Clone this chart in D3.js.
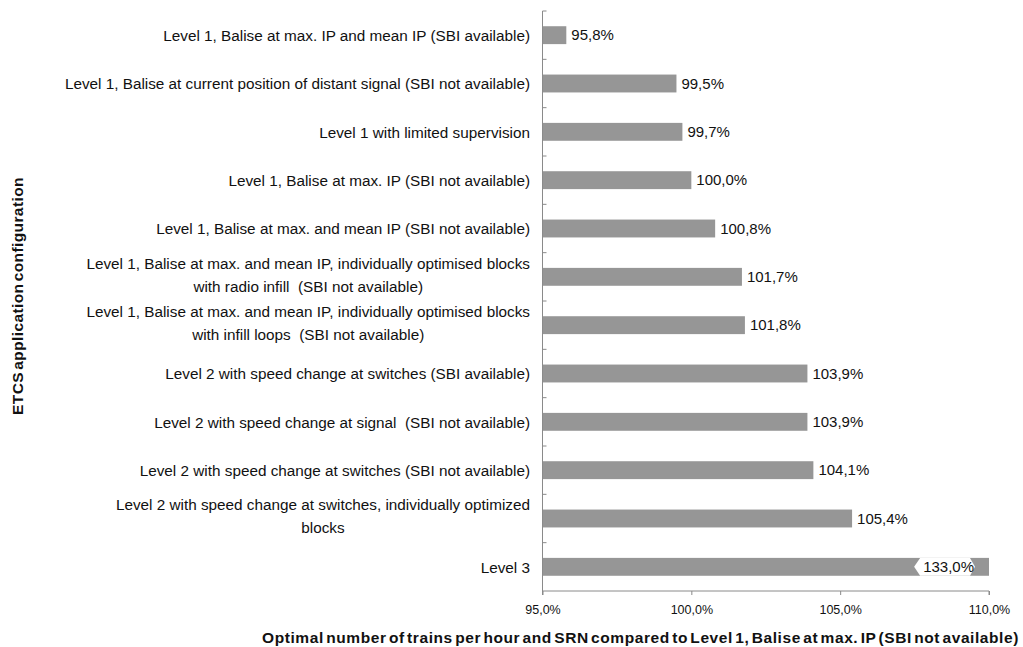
<!DOCTYPE html>
<html>
<head>
<meta charset="utf-8">
<script src="https://cdn.jsdelivr.net/npm/d3@7"></script>
<style>
  html, body { margin: 0; padding: 0; background: #fff; }
  svg { display: block; font-family: "Liberation Sans", Arial, sans-serif; }
  .cat { font-size: 15.3px; fill: #111; white-space: pre; }
  .val { font-size: 15px; fill: #111; }
  .tick-lbl { font-size: 12.5px; fill: #111; }
  .title { font-size: 15.5px; font-weight: bold; fill: #111; letter-spacing: 0.4px; word-spacing: -2.5px; }
  .title.x-title { letter-spacing: 0.58px; }
</style>
</head>
<body>
<svg id="chart" width="1023" height="647"></svg>
<script>
// ETCS configurations (top to bottom); "\n" marks a line break in the label
const categories = [
  "Level 1, Balise at max. IP and mean IP (SBI available)",
  "Level 1, Balise at current position of distant signal (SBI not available)",
  "Level 1 with limited supervision",
  "Level 1, Balise at max. IP (SBI not available)",
  "Level 1, Balise at max. and mean IP (SBI not available)",
  "Level 1, Balise at max. and mean IP, individually optimised blocks\nwith radio infill  (SBI not available)",
  "Level 1, Balise at max. and mean IP, individually optimised blocks\nwith infill loops  (SBI not available)",
  "Level 2 with speed change at switches (SBI available)",
  "Level 2 with speed change at signal  (SBI not available)",
  "Level 2 with speed change at switches (SBI not available)",
  "Level 2 with speed change at switches, individually optimized\nblocks",
  "Level 3"
];

// Optimal trains per hour relative to the reference configuration, in %
const values = [95.8, 99.5, 99.7, 100.0, 100.8, 101.7, 101.8, 103.9, 103.9, 104.1, 105.4, 133.0];

// Axis ticks, in %
const xTicks = [95, 100, 105, 110];

const yTitle = "ETCS application configuration";
const xTitle = "Optimal number of trains per hour and SRN compared to Level 1, Balise at max. IP (SBI not available)";

const svg = d3.select("#chart");
const axisColor = "#8a8a8a";
const barColor = "#969696";

const plot = { left: 542.5, right: 989, top: 11, bottom: 591 };

const locale = d3.formatLocale({ decimal: ",", thousands: ".", grouping: [3], currency: ["", "€"] });
const pct = v => locale.format(".1f")(v) + "%";

const x = d3.scaleLinear().domain([95, 110]).range([plot.left, plot.right]).clamp(true);
const y = d3.scaleBand().domain(d3.range(categories.length))
  .range([plot.top, plot.bottom]).paddingInner(0.63).paddingOuter(0.315);

// Bars
svg.append("g").selectAll("rect").data(values).join("rect")
  .attr("x", x(95))
  .attr("y", (d, i) => y(i))
  .attr("width", d => x(d) - x(95))
  .attr("height", y.bandwidth())
  .attr("fill", barColor);

// Horizontal axis
const xAxis = d3.axisBottom(x).tickValues(xTicks).tickSize(4).tickPadding(10.5).tickFormat(pct);
const gx = svg.append("g").attr("transform", `translate(0,${plot.bottom})`).call(xAxis);
gx.attr("font-family", null).attr("font-size", null);
gx.select(".domain").attr("stroke", axisColor).attr("d", `M${plot.left},4V0H${plot.right}V4`);
gx.selectAll(".tick line").attr("stroke", axisColor);
gx.selectAll(".tick text").attr("class", "tick-lbl").attr("fill", "#111");

// Vertical axis with inward ticks on category boundaries
const step = y.step();
const boundaries = d3.range(categories.length).map(i => plot.top + i * step);
svg.append("line").attr("x1", plot.left).attr("x2", plot.left)
  .attr("y1", plot.top).attr("y2", plot.bottom).attr("stroke", axisColor);
svg.append("g").selectAll("line").data(boundaries).join("line")
  .attr("x1", plot.left).attr("x2", plot.left + 4)
  .attr("y1", d => d).attr("y2", d => d).attr("stroke", axisColor);

// Category labels: right-aligned block, lines of a wrapped label centred within the block
const labelRight = 530;
const lineH = 23;
const cg = svg.append("g");
categories.forEach((c, i) => {
  const lines = c.split("\n");
  const cy = y(i) + y.bandwidth() / 2 + (lines.length > 1 ? -2 : 0.5);
  const t = cg.append("text").attr("class", "cat");
  const spans = lines.map((ln, k) => t.append("tspan")
    .attr("y", cy + (k - (lines.length - 1) / 2) * lineH)
    .attr("dy", "0.35em")
    .text(ln));
  if (lines.length === 1) {
    t.attr("text-anchor", "end");
    spans[0].attr("x", labelRight);
  } else {
    const w = d3.max(spans, s => s.node().getComputedTextLength());
    t.attr("text-anchor", "middle");
    spans.forEach(s => s.attr("x", labelRight - w / 2));
  }
});

// Value labels
const vg = svg.append("g");
values.forEach((v, i) => {
  const cy = y(i) + y.bandwidth() / 2;
  if (v <= x.domain()[1]) {
    vg.append("text").attr("class", "val")
      .attr("x", x(v) + 5).attr("y", cy).attr("dy", "0.35em").text(pct(v));
  } else {
    // Bar runs past the axis end: label sits inside the bar on a white callout
    const t = vg.append("text").attr("class", "val").attr("text-anchor", "end")
      .attr("x", x(v) - 15).attr("y", cy).attr("dy", "0.35em").text(pct(v));
    const w = t.node().getComputedTextLength();
    const r = x(v) - 15, l = r - w - 3;
    const top = y(i), bot = y(i) + y.bandwidth();
    vg.insert("path", "text")
      .attr("d", `M${l - 6},${cy}L${l},${top}H${r - 4}L${r + 1},${cy}L${r - 4},${bot}H${l}Z`)
      .attr("fill", "#fff");
  }
});

// Titles
svg.append("text").attr("class", "title")
  .attr("transform", `translate(23,${296}) rotate(-90)`)
  .attr("text-anchor", "middle").text(yTitle);
svg.append("text").attr("class", "title x-title")
  .attr("x", 640.5).attr("y", 643).attr("text-anchor", "middle").text(xTitle);
</script>
</body>
</html>
